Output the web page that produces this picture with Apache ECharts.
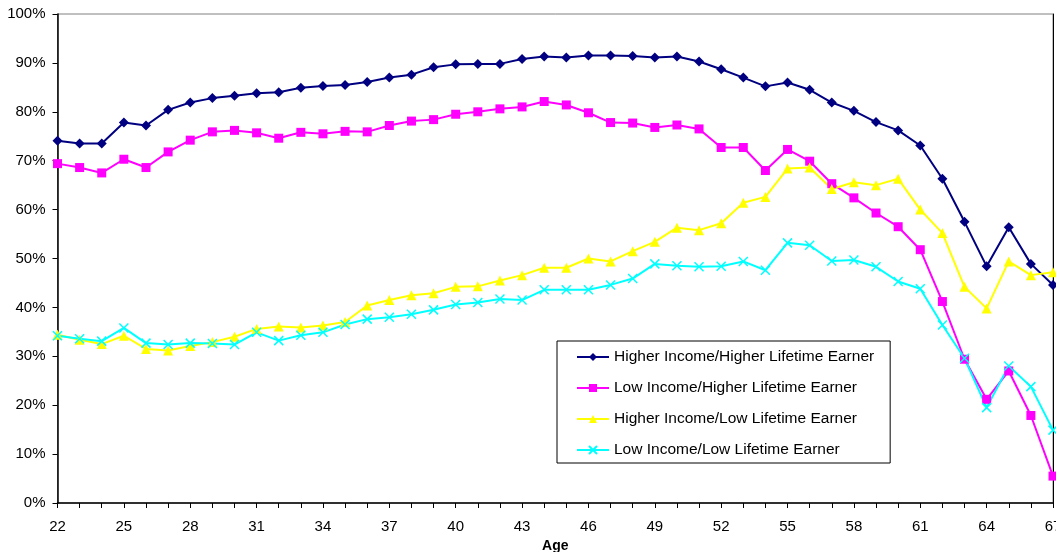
<!DOCTYPE html>
<html>
<head>
<meta charset="utf-8">
<script src="https://cdn.jsdelivr.net/npm/echarts@6/dist/echarts.min.js"></script>
<style>
html,body{margin:0;padding:0;background:#fff;}
#chart{width:1056px;height:552px;}
</style>
</head>
<body>
<div id="chart"></div>
<script>
const ages = [22,23,24,25,26,27,28,29,30,31,32,33,34,35,36,37,38,39,40,41,42,43,44,45,46,47,48,49,50,51,52,53,54,55,56,57,58,59,60,61,62,63,64,65,66,67];

const seriesNames = [
  'Higher Income/Higher Lifetime Earner',
  'Low Income/Higher Lifetime Earner',
  'Higher Income/Low Lifetime Earner',
  'Low Income/Low Lifetime Earner'
];

const higherIncomeHigherLifetime = [74.1,73.5,73.5,77.8,77.2,80.4,81.9,82.8,83.3,83.8,84.0,84.9,85.3,85.5,86.1,87.0,87.6,89.1,89.7,89.8,89.8,90.8,91.3,91.1,91.5,91.5,91.4,91.1,91.3,90.3,88.7,87.0,85.2,86.0,84.5,81.9,80.2,77.9,76.2,73.1,66.3,57.5,48.4,56.4,48.9,44.6];

const lowIncomeHigherLifetime = [69.4,68.6,67.5,70.3,68.6,71.8,74.2,75.9,76.2,75.7,74.6,75.8,75.5,76.0,75.9,77.2,78.1,78.4,79.5,80.0,80.6,81.0,82.1,81.4,79.8,77.8,77.7,76.8,77.3,76.5,72.7,72.7,68.0,72.3,69.9,65.3,62.4,59.3,56.5,51.8,41.2,29.4,21.2,27.0,17.9,5.5];

const higherIncomeLowLifetime = [34.4,33.4,32.5,34.2,31.5,31.2,32.1,32.9,34.0,35.6,36.1,35.9,36.3,37.0,40.4,41.5,42.5,42.9,44.2,44.3,45.5,46.6,48.1,48.1,50.0,49.4,51.5,53.4,56.3,55.8,57.2,61.4,62.6,68.4,68.6,64.2,65.6,65.0,66.3,60.0,55.2,44.2,39.8,49.4,46.6,47.2];

const lowIncomeLowLifetime = [34.2,33.6,33.1,35.8,32.7,32.4,32.7,32.6,32.4,34.9,33.2,34.3,34.9,36.5,37.6,38.0,38.6,39.5,40.6,41.0,41.7,41.5,43.6,43.6,43.6,44.6,45.9,48.9,48.5,48.3,48.4,49.4,47.6,53.2,52.7,49.5,49.7,48.3,45.3,43.8,36.4,29.6,19.5,28.0,23.8,14.9];

const yTicks = [0,10,20,30,40,50,60,70,80,90,100];

const FONT = '"Liberation Sans", Arial, sans-serif';

const chart = echarts.init(document.getElementById('chart'), null, {renderer:'canvas'});

function lineSeries(name, data, color, symbol, size, extraItem) {
  return {
    name: name,
    type: 'line',
    data: data,
    symbol: symbol,
    symbolSize: size,
    showSymbol: true,
    lineStyle: {color: color, width: 2},
    itemStyle: Object.assign({color: color}, extraItem || {}),
    emphasis: {disabled: true},
    z: 3
  };
}

chart.setOption({
  animation: false,
  backgroundColor: '#ffffff',
  textStyle: {fontFamily: FONT},
  grid: {
    left: 57.5, right: 3, top: 14, bottom: 49,
    containLabel: false,
    outerBoundsMode: 'none',
    show: true, borderColor: '#808080', borderWidth: 1, backgroundColor: 'transparent'
  },
  legend: {
    orient: 'vertical',
    left: 557, top: 341,
    backgroundColor: '#ffffff',
    borderColor: '#000000',
    borderWidth: 1,
    padding: [8, 16, 5, 19],
    itemGap: 15,
    itemWidth: 32,
    itemHeight: 10,
    textStyle: {fontFamily: FONT, fontSize: 15.5, color: '#000'},
    data: seriesNames
  },
  xAxis: {
    type: 'category',
    data: ages,
    boundaryGap: false,
    name: 'Age',
    nameLocation: 'middle',
    nameGap: 32,
    nameTextStyle: {fontFamily: FONT, fontSize: 14, fontWeight: 'bold', color: '#000'},
    axisLine: {show: true, lineStyle: {color: '#000', width: 1.5}},
    axisTick: {show: true, interval: 0, length: 5, lineStyle: {color: '#000'}},
    axisLabel: {interval: 2, margin: 16, fontFamily: FONT, fontSize: 15, color: '#000'},
    splitLine: {show: false}
  },
  yAxis: [{
    type: 'value',
    min: 0, max: 100, interval: 10,
    axisLine: {show: true, lineStyle: {color: '#000', width: 1.5}},
    axisTick: {show: true, length: 5, lineStyle: {color: '#000'}},
    axisLabel: {formatter: '{value}%', margin: 12, fontFamily: FONT, fontSize: 15, color: '#000'},
    splitLine: {show: false}
  }, {
    type: 'value',
    position: 'right',
    min: 0, max: 100, interval: 10,
    axisLine: {show: true, lineStyle: {color: '#000', width: 1}},
    axisTick: {show: false},
    axisLabel: {show: false},
    splitLine: {show: false}
  }],
  series: [
    lineSeries(seriesNames[0], higherIncomeHigherLifetime, '#000080', 'diamond', 10),
    lineSeries(seriesNames[1], lowIncomeHigherLifetime, '#FF00FF', 'rect', 9),
    lineSeries(seriesNames[2], higherIncomeLowLifetime, '#FFFF00', 'triangle', 10),
    lineSeries(seriesNames[3], lowIncomeLowLifetime, '#00FFFF', 'path://M0,0L10,10M10,0L0,10', 9,
      {borderColor: '#00FFFF', borderWidth: 1.5})
  ]
});
</script>
</body>
</html>
